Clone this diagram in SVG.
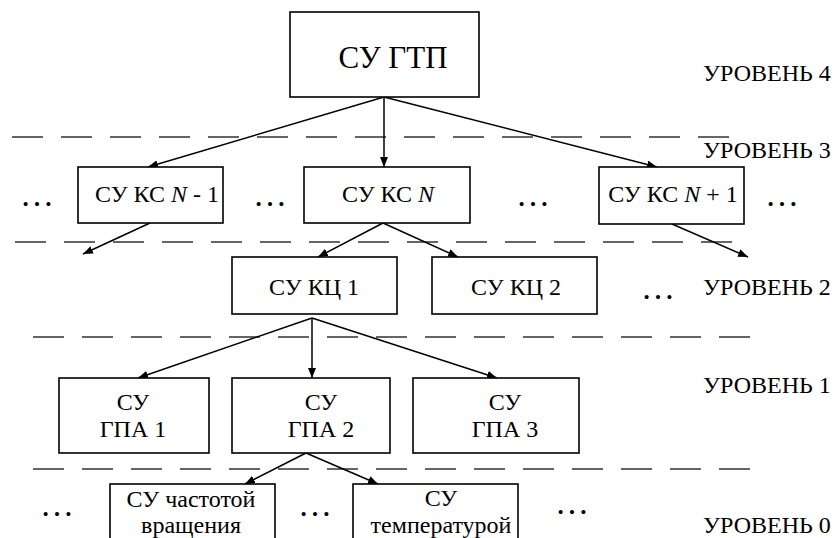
<svg xmlns="http://www.w3.org/2000/svg" width="839" height="538" viewBox="0 0 839 538">
<defs>
<marker id="ah" viewBox="0 0 10 8" refX="10" refY="4" markerWidth="10" markerHeight="8" markerUnits="userSpaceOnUse" orient="auto">
<path d="M0,0 L10,4 L0,8 z" fill="#000"/>
</marker>
<style>
text{font-family:'Liberation Serif','Times New Roman','DejaVu Serif',serif;fill:#000}
.box{fill:#fff;stroke:#000;stroke-width:1.6}
.t{font-size:24px;text-anchor:middle}
.big{font-size:31px}
.lvl{font-size:24px}
.dots{font-size:34px;text-anchor:middle}
.dash{stroke:#333;stroke-width:1.6;stroke-dasharray:31 18;fill:none}
.c{stroke:#000;stroke-width:1.5;fill:none;marker-end:url(#ah)}
</style>
</defs>
<rect width="839" height="538" fill="#fff"/>
<g id="dashes">
<line class="dash" x1="12" y1="137" x2="732" y2="137"/>
<line class="dash" x1="15" y1="242" x2="735" y2="242"/>
<line class="dash" x1="33" y1="337" x2="753" y2="337"/>
<line class="dash" x1="33" y1="469" x2="753" y2="469"/>
</g>
<g id="levels">
<text class="lvl" x="703" y="81">УРОВЕНЬ 4</text>
<text class="lvl" x="703" y="158">УРОВЕНЬ 3</text>
<text class="lvl" x="703" y="295">УРОВЕНЬ 2</text>
<text class="lvl" x="703" y="393">УРОВЕНЬ 1</text>
<text class="lvl" x="703" y="533">УРОВЕНЬ 0</text>
</g>
<g id="ellipses">
<text class="dots" x="37" y="206">…</text>
<text class="dots" x="270" y="206">…</text>
<text class="dots" x="533" y="206">…</text>
<text class="dots" x="782" y="206">…</text>
<text class="dots" x="658" y="299">…</text>
<text class="dots" x="57" y="516">…</text>
<text class="dots" x="315" y="516">…</text>
<text class="dots" x="572" y="514">…</text>
</g>
<g id="connectors">
<line class="c" x1="384" y1="97" x2="148" y2="167"/>
<line class="c" x1="384" y1="97" x2="384" y2="167"/>
<line class="c" x1="384" y1="97" x2="657" y2="167"/>
<line class="c" x1="150" y1="223" x2="83" y2="254"/>
<line class="c" x1="383" y1="223" x2="318" y2="257"/>
<line class="c" x1="383" y1="223" x2="458" y2="257"/>
<line class="c" x1="672" y1="224" x2="748" y2="257"/>
<line class="c" x1="312" y1="318" x2="138" y2="378"/>
<line class="c" x1="312" y1="318" x2="312" y2="378"/>
<line class="c" x1="312" y1="318" x2="497" y2="378"/>
<line class="c" x1="306" y1="453" x2="245" y2="484"/>
<line class="c" x1="306" y1="453" x2="378" y2="484"/>
</g>
<g id="gtp">
<rect class="box" x="290" y="12" width="189" height="85"/>
<text class="t big" x="393" y="68">СУ ГТП</text>
</g>
<g id="ks-n-1">
<rect class="box" x="78" y="167" width="145" height="56"/>
<text class="t" x="157" y="202">СУ КС <tspan font-style="italic">N</tspan> - 1</text>
</g>
<g id="ks-n">
<rect class="box" x="304" y="167" width="166" height="56"/>
<text class="t" x="388" y="202">СУ КС <tspan font-style="italic">N</tspan></text>
</g>
<g id="ks-n1">
<rect class="box" x="599" y="167" width="145" height="57"/>
<text class="t" x="673" y="202">СУ КС <tspan font-style="italic">N</tspan> + 1</text>
</g>
<g id="kc1">
<rect class="box" x="232" y="257" width="165" height="57"/>
<text class="t" x="314" y="295">СУ КЦ 1</text>
</g>
<g id="kc2">
<rect class="box" x="432" y="257" width="165" height="57"/>
<text class="t" x="516" y="295">СУ КЦ 2</text>
</g>
<g id="gpa1">
<rect class="box" x="59" y="378" width="150" height="75"/>
<text class="t" x="133" y="410">СУ</text>
<text class="t" x="133" y="437">ГПА 1</text>
</g>
<g id="gpa2">
<rect class="box" x="232" y="378" width="158" height="75"/>
<text class="t" x="321" y="410">СУ</text>
<text class="t" x="321" y="437">ГПА 2</text>
</g>
<g id="gpa3">
<rect class="box" x="413" y="378" width="166" height="75"/>
<text class="t" x="505" y="410">СУ</text>
<text class="t" x="505" y="437">ГПА 3</text>
</g>
<g id="freq">
<rect class="box" x="110" y="484" width="165" height="70"/>
<text class="t" x="191" y="507">СУ частотой</text>
<text class="t" x="191" y="533">вращения</text>
</g>
<g id="temp">
<rect class="box" x="353" y="484" width="165" height="70"/>
<text class="t" x="441" y="506">СУ</text>
<text class="t" x="441" y="533">температурой</text>
</g>
</svg>
